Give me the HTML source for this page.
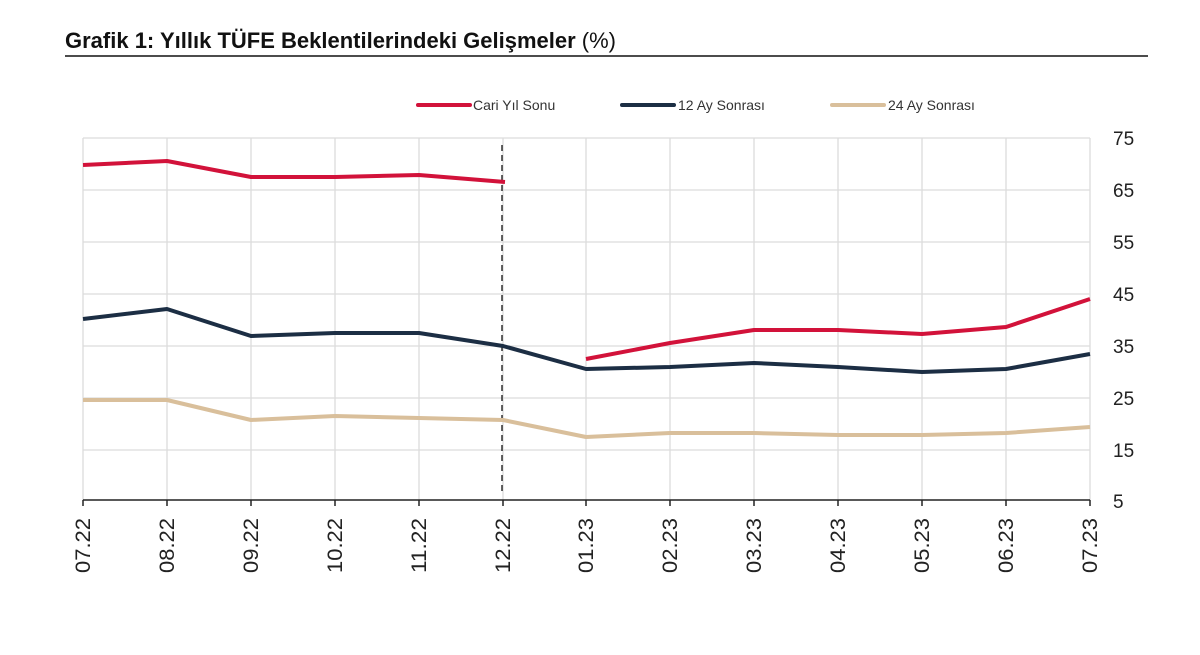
<!DOCTYPE html>
<html><head><meta charset="utf-8"><style>
body{margin:0;background:#fff;width:1200px;height:650px;overflow:hidden;font-family:"Liberation Sans",sans-serif}
</style></head><body>
<svg width="1200" height="650" xmlns="http://www.w3.org/2000/svg" font-family="Liberation Sans, sans-serif">
<text x="65" y="48" font-size="22" font-weight="bold" fill="#111">Grafik 1: Yıllık TÜFE Beklentilerindeki Gelişmeler <tspan font-weight="normal">(%)</tspan></text>
<line x1="65" y1="56" x2="1148" y2="56" stroke="#111" stroke-width="1.5"/>
<g stroke-width="4" stroke-linecap="round">
<line x1="418" y1="105" x2="470" y2="105" stroke="#d2123a"/>
<line x1="622" y1="105" x2="674" y2="105" stroke="#1c2e44"/>
<line x1="832" y1="105" x2="884" y2="105" stroke="#d9bf9b"/>
</g>
<g font-size="14" fill="#333">
<text x="473" y="110">Cari Yıl Sonu</text>
<text x="678" y="110">12 Ay Sonrası</text>
<text x="888" y="110">24 Ay Sonrası</text>
</g>
<g stroke="#dcdcdc" stroke-width="1.3">
<line x1="83" y1="138" x2="1090" y2="138"/><line x1="83" y1="190" x2="1090" y2="190"/><line x1="83" y1="242" x2="1090" y2="242"/><line x1="83" y1="294" x2="1090" y2="294"/><line x1="83" y1="346" x2="1090" y2="346"/><line x1="83" y1="398" x2="1090" y2="398"/><line x1="83" y1="450" x2="1090" y2="450"/>
<line x1="83" y1="138" x2="83" y2="500"/><line x1="167" y1="138" x2="167" y2="500"/><line x1="251" y1="138" x2="251" y2="500"/><line x1="335" y1="138" x2="335" y2="500"/><line x1="419" y1="138" x2="419" y2="500"/><line x1="503" y1="138" x2="503" y2="500"/><line x1="586" y1="138" x2="586" y2="500"/><line x1="670" y1="138" x2="670" y2="500"/><line x1="754" y1="138" x2="754" y2="500"/><line x1="838" y1="138" x2="838" y2="500"/><line x1="922" y1="138" x2="922" y2="500"/><line x1="1006" y1="138" x2="1006" y2="500"/><line x1="1090" y1="138" x2="1090" y2="500"/>
</g>
<g stroke="#222" stroke-width="1.5">
<line x1="83" y1="500" x2="1090" y2="500"/>
<line x1="83" y1="500" x2="83" y2="506"/><line x1="167" y1="500" x2="167" y2="506"/><line x1="251" y1="500" x2="251" y2="506"/><line x1="335" y1="500" x2="335" y2="506"/><line x1="419" y1="500" x2="419" y2="506"/><line x1="503" y1="500" x2="503" y2="506"/><line x1="586" y1="500" x2="586" y2="506"/><line x1="670" y1="500" x2="670" y2="506"/><line x1="754" y1="500" x2="754" y2="506"/><line x1="838" y1="500" x2="838" y2="506"/><line x1="922" y1="500" x2="922" y2="506"/><line x1="1006" y1="500" x2="1006" y2="506"/><line x1="1090" y1="500" x2="1090" y2="506"/>
</g>
<line x1="502" y1="145" x2="502" y2="492" stroke="#111" stroke-width="1.3" stroke-dasharray="6,4"/>
<g fill="none" stroke-width="4" stroke-linejoin="round">
<polyline stroke="#d9bf9b" points="83,400 167,400 251,420 335,416 419,418 503,420 586,437 670,433 754,433 838,435 922,435 1006,433 1090,427"/>
<polyline stroke="#1c2e44" points="83,319 167,309 251,336 335,333 419,333 503,346 586,369 670,367 754,363 838,367 922,372 1006,369 1090,354"/>
<polyline stroke="#d2123a" points="83,165 167,161 251,177 335,177 419,175 505,182"/>
<polyline stroke="#d2123a" points="586,359 670,343 754,330 838,330 922,334 1006,327 1090,299"/>
</g>
<g font-size="19" fill="#222">
<text x="1113" y="145">75</text><text x="1113" y="197">65</text><text x="1113" y="249">55</text><text x="1113" y="301">45</text><text x="1113" y="353">35</text><text x="1113" y="405">25</text><text x="1113" y="457">15</text><text x="1113" y="508">5</text>
</g>
<g font-size="21" fill="#222" text-anchor="end">
<text transform="translate(90,518) rotate(-90)" textLength="55" lengthAdjust="spacingAndGlyphs">07.22</text>
<text transform="translate(174,518) rotate(-90)" textLength="55" lengthAdjust="spacingAndGlyphs">08.22</text>
<text transform="translate(258,518) rotate(-90)" textLength="55" lengthAdjust="spacingAndGlyphs">09.22</text>
<text transform="translate(342,518) rotate(-90)" textLength="55" lengthAdjust="spacingAndGlyphs">10.22</text>
<text transform="translate(426,518) rotate(-90)" textLength="55" lengthAdjust="spacingAndGlyphs">11.22</text>
<text transform="translate(510,518) rotate(-90)" textLength="55" lengthAdjust="spacingAndGlyphs">12.22</text>
<text transform="translate(593,518) rotate(-90)" textLength="55" lengthAdjust="spacingAndGlyphs">01.23</text>
<text transform="translate(677,518) rotate(-90)" textLength="55" lengthAdjust="spacingAndGlyphs">02.23</text>
<text transform="translate(761,518) rotate(-90)" textLength="55" lengthAdjust="spacingAndGlyphs">03.23</text>
<text transform="translate(845,518) rotate(-90)" textLength="55" lengthAdjust="spacingAndGlyphs">04.23</text>
<text transform="translate(929,518) rotate(-90)" textLength="55" lengthAdjust="spacingAndGlyphs">05.23</text>
<text transform="translate(1013,518) rotate(-90)" textLength="55" lengthAdjust="spacingAndGlyphs">06.23</text>
<text transform="translate(1097,518) rotate(-90)" textLength="55" lengthAdjust="spacingAndGlyphs">07.23</text>
</g>
</svg>
</body></html>
